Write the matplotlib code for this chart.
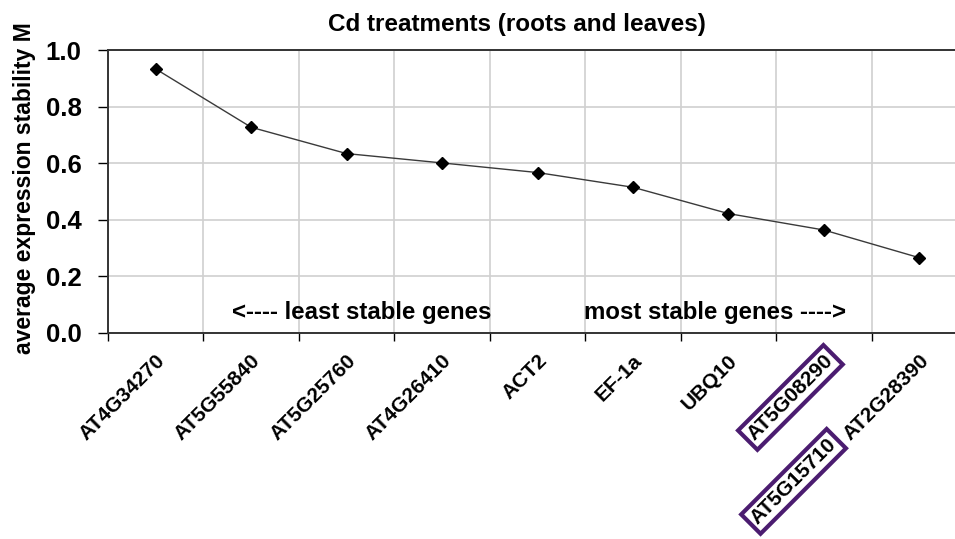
"""
Cd treatments: average expression stability M (geNorm)
"""

import matplotlib.pyplot as plt
import matplotlib.transforms as mtransforms
import numpy as np

genes = ['AT4G34270', 'AT5G55840', 'AT5G25760', 'AT4G26410', 'ACT2',
         'EF-1a', 'UBQ10', 'AT5G08290', 'AT2G28390']
extra_gene = 'AT5G15710'
stability = [0.933, 0.727, 0.634, 0.601, 0.567, 0.515, 0.422, 0.364, 0.266]
yticks = [0.0, 0.2, 0.4, 0.6, 0.8, 1.0]

plt.rcParams['font.family'] = ['Liberation Sans', 'DejaVu Sans']
plt.rcParams['font.weight'] = 'bold'

fig = plt.figure(figsize=(9.55, 5.39), dpi=100)
ax = fig.add_axes([0.1131, 0.3822, 0.8995, 0.525])

x = np.arange(len(genes))
ax.plot(x, stability, '-', color='#3a3a3a', lw=1.0, marker='D', ms=6,
        mfc='black', mec='black', zorder=3)

ax.set_xlim(-0.5, len(genes) - 0.5)
ax.set_ylim(0, 1.0)
ax.set_yticks(yticks)
ax.set_yticklabels(['%.1f' % v for v in yticks], fontsize=18.5, fontweight='bold')

# category boundaries carry the tick marks and grid
ax.set_xticks(np.arange(-0.5, len(genes)), minor=True)
ax.set_xticks(x)
ax.set_xticklabels([])
ax.tick_params(axis='x', which='major', length=0)
ax.tick_params(axis='x', which='minor', length=6, width=1, direction='out')
ax.tick_params(axis='y', length=7, width=1, direction='out', pad=12)
ax.grid(True, axis='x', which='minor', color='#d0d0d0', lw=1.2)
ax.grid(True, axis='y', which='major', color='#d0d0d0', lw=1.2)
ax.set_axisbelow(True)

for s in ['top', 'bottom', 'left']:
    ax.spines[s].set_color('#333333')
    ax.spines[s].set_linewidth(1.4)
ax.spines['right'].set_visible(False)

# gene names, rotated under each category
purple = '#4b1c70'
shift = mtransforms.ScaledTranslation(13 / 100, -18 / 100, fig.dpi_scale_trans)
for i, g in enumerate(genes):
    t = ax.text(i, 0, g, transform=ax.get_xaxis_transform() + shift,
                rotation=45, ha='right', va='top', fontsize=15, fontweight='bold')
    if g == 'AT5G08290':
        t.set_bbox(dict(boxstyle='square,pad=0.2', fc='none', ec=purple, lw=3))
ax.text(7.17, -0.36, extra_gene, rotation=45, ha='right', va='top',
        fontsize=15, fontweight='bold',
        bbox=dict(boxstyle='square,pad=0.2', fc='none', ec=purple, lw=3))

ax.text(0.8, 0.071, '<---- least stable genes', fontsize=17.3, fontweight='bold',
        va='center', ha='left')
ax.text(4.49, 0.071, 'most stable genes ---->', fontsize=17.3, fontweight='bold',
        va='center', ha='left')

fig.text(517 / 955, 1 - 24 / 539, 'Cd treatments (roots and leaves)',
         fontsize=17.5, fontweight='bold', ha='center', va='center')
fig.text(25 / 955, 1 - 188 / 539, 'average expression stability M', rotation=90,
         fontsize=16.5, fontweight='bold', ha='center', va='center')

fig.savefig('out.png', dpi=100)
